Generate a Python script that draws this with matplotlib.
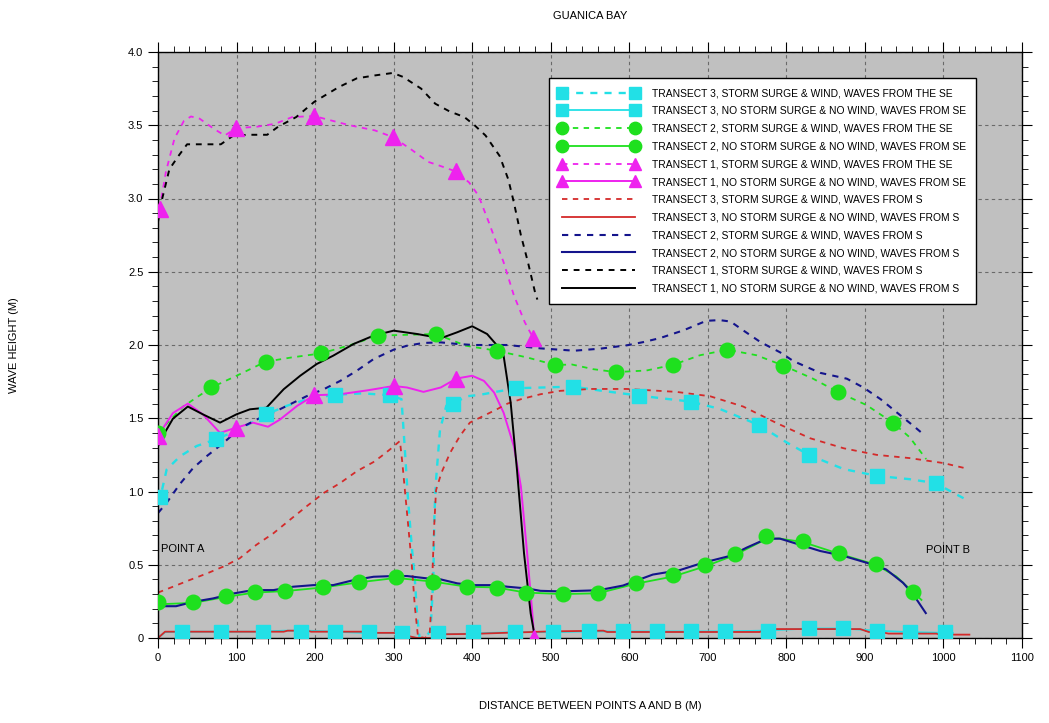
import matplotlib
matplotlib.use('Agg')
from matplotlib import pyplot as plt
from matplotlib.lines import Line2D
from matplotlib.ticker import MultipleLocator, FuncFormatter

plt.rcParams['font.family'] = ['Liberation Sans', 'DejaVu Sans']

# ---- data (distance in m, wave height in m) ----

# transect 3, storm surge & wind, waves from SE (cyan dashed, squares)
t3_se_storm_x = [0, 3, 11, 28, 49, 73.6, 104, 138, 164, 190, 225, 260, 296, 310, 314, 318,
                 323, 327, 330, 333, 340, 347, 350.5, 352, 354, 359, 367, 376, 393, 410, 430,
                 456, 490, 528, 563, 612, 648, 678, 715, 765, 800, 829, 873, 915, 957, 990,
                 1012, 1032]
t3_se_storm_y = [0.92, 0.96, 1.15, 1.24, 1.31, 1.356, 1.425, 1.527, 1.585, 1.63, 1.66, 1.67,
                 1.657, 1.63, 1.31, 0.97, 0.63, 0.40, 0.15, 0.0, 0.0, 0.05, 0.40, 0.86, 1.08,
                 1.42, 1.585, 1.60, 1.65, 1.66, 1.68, 1.705, 1.71, 1.716, 1.689, 1.655, 1.632,
                 1.614, 1.564, 1.454, 1.336, 1.249, 1.153, 1.107, 1.084, 1.057, 0.993, 0.936]
t3_se_storm_mx = [3, 73.6, 138, 225, 296, 376, 456, 528, 612, 678, 765, 829, 915, 990]
t3_se_storm_my = [0.96, 1.356, 1.527, 1.66, 1.657, 1.60, 1.705, 1.716, 1.655, 1.614, 1.454,
                  1.249, 1.107, 1.057]

# transect 3, no storm surge & no wind, waves from SE (cyan solid, squares)
t3_se_calm_x = [0, 9, 31, 80, 134, 160, 182, 190, 225, 262, 268, 300, 311, 317, 330, 349,
                355, 357, 401, 424, 454, 503, 549, 592, 635, 678, 722, 770, 829, 872, 915,
                957, 1002, 1012]
t3_se_calm_y = [0.0, 0.04, 0.043, 0.043, 0.043, 0.05, 0.05, 0.05, 0.043, 0.035, 0.035, 0.035,
                0.03, 0.01, 0.0, 0.0, 0.025, 0.025, 0.03, 0.035, 0.04, 0.04, 0.045, 0.045,
                0.045, 0.045, 0.045, 0.05, 0.065, 0.065, 0.05, 0.04, 0.035, 0.035]
t3_se_calm_mx = [31, 80, 134, 182, 225, 268, 311, 357, 401, 454, 503, 549, 592, 635, 678,
                 722, 776, 829, 872, 915, 957, 1002]
t3_se_calm_my = [0.043, 0.043, 0.043, 0.043, 0.043, 0.04, 0.035, 0.035, 0.04, 0.04, 0.043,
                 0.045, 0.045, 0.045, 0.045, 0.045, 0.05, 0.068, 0.068, 0.05, 0.04, 0.04]

# transect 2, storm surge & wind, waves from SE (green dashed, circles)
t2_se_storm_x = [0, 32, 68, 100, 137, 170, 208, 245, 280, 320, 354, 392, 431, 470, 506, 527,
                 554, 583, 622, 656, 690, 725, 762, 796, 834, 866, 902, 936, 957, 978]
t2_se_storm_y = [1.40, 1.58, 1.71, 1.79, 1.886, 1.915, 1.943, 2.0, 2.064, 2.07, 2.075, 1.995,
                 1.961, 1.915, 1.863, 1.867, 1.835, 1.815, 1.826, 1.865, 1.93, 1.968, 1.93,
                 1.86, 1.77, 1.678, 1.59, 1.468, 1.37, 1.221]
t2_se_storm_mx = [0, 68, 137, 208, 280, 354, 431, 506, 583, 656, 725, 796, 866, 936]
t2_se_storm_my = [1.40, 1.71, 1.886, 1.943, 2.064, 2.075, 1.961, 1.863, 1.815, 1.865, 1.968,
                  1.86, 1.678, 1.468]

# transect 2, no storm surge & no wind, waves from SE (green solid, circles)
t2_se_calm_x = [0, 23, 45, 86, 123, 162, 210, 256, 303, 350, 393, 431, 468, 515, 560, 608,
                656, 697, 734, 774, 790, 821, 867, 914, 940, 961, 972]
t2_se_calm_y = [0.23, 0.235, 0.24, 0.28, 0.31, 0.32, 0.345, 0.38, 0.41, 0.385, 0.35, 0.345,
                0.31, 0.30, 0.305, 0.37, 0.42, 0.49, 0.565, 0.675, 0.68, 0.655, 0.575, 0.50,
                0.42, 0.315, 0.26]
t2_se_calm_mx = [0, 45, 86, 123, 162, 210, 256, 303, 350, 393, 431, 468, 515, 560, 608, 656,
                 697, 734, 774, 821, 867, 914, 961]
t2_se_calm_my = [0.247, 0.247, 0.286, 0.315, 0.322, 0.35, 0.384, 0.414, 0.384, 0.35, 0.343,
                 0.309, 0.297, 0.31, 0.377, 0.427, 0.497, 0.575, 0.696, 0.664, 0.582, 0.502,
                 0.315]

# transect 1, storm surge & wind, waves from SE (magenta dashed, triangles)
t1_se_storm_x = [2, 10, 21, 33, 42, 53, 71, 85, 99.5, 126, 149, 171, 198.6, 244, 276, 298.6,
                 321, 344, 358, 379, 396, 408, 421, 440, 453, 467, 478]
t1_se_storm_y = [2.93, 3.18, 3.41, 3.53, 3.56, 3.545, 3.476, 3.43, 3.48, 3.49, 3.51, 3.556,
                 3.563, 3.50, 3.465, 3.42, 3.34, 3.25, 3.225, 3.185, 3.11, 3.02, 2.84, 2.565,
                 2.34, 2.155, 2.045]
t1_se_storm_mx = [2, 99.5, 198.6, 298.6, 379, 478]
t1_se_storm_my = [2.93, 3.48, 3.563, 3.42, 3.185, 2.045]

# transect 1, no storm surge & no wind, waves from SE (magenta solid, triangles)
t1_se_calm_x = [0, 19, 38, 57, 79, 99, 121, 140, 155, 177, 199, 232, 266, 300, 317, 338, 360,
                380, 400, 415, 428, 440, 453, 462, 470, 476.6, 479]
t1_se_calm_y = [1.38, 1.535, 1.6, 1.527, 1.40, 1.435, 1.47, 1.442, 1.49, 1.584, 1.657, 1.664,
                1.69, 1.72, 1.71, 1.68, 1.71, 1.771, 1.79, 1.755, 1.675, 1.538, 1.31, 1.035,
                0.578, 0.167, 0.0]
t1_se_calm_mx = [0, 99, 199, 300, 380, 479]
t1_se_calm_my = [1.38, 1.435, 1.657, 1.72, 1.771, 0.0]

# transect 3, storm surge & wind, waves from S (red dashed)
t3_s_storm_x = [0, 19, 40, 62, 83, 104, 125, 147, 168, 189, 211, 232, 253, 274, 283, 296,
                308, 311, 317, 323, 327, 331, 340, 346, 348.4, 351.4, 354, 361, 372, 384.5,
                397, 414, 431, 445, 462, 487, 512, 551, 597, 660, 703, 745, 788, 830, 873,
                915, 957, 1000, 1027]
t3_s_storm_y = [0.31, 0.35, 0.395, 0.44, 0.487, 0.544, 0.635, 0.715, 0.807, 0.898, 0.99,
                1.058, 1.138, 1.20, 1.235, 1.29, 1.345, 1.20, 0.856, 0.51, 0.214, 0.01, 0.0,
                0.03, 0.284, 0.74, 1.01, 1.13, 1.265, 1.38, 1.47, 1.515, 1.56, 1.60, 1.63,
                1.664, 1.687, 1.70, 1.70, 1.68, 1.65, 1.58, 1.466, 1.364, 1.295, 1.25, 1.228,
                1.194, 1.16]

# transect 3, no storm surge & no wind, waves from S (red solid)
t3_s_calm_x = [0, 9, 160, 165, 190, 195, 262, 268, 300, 317, 330, 349, 355, 400, 440, 500,
               567, 572, 766, 775, 894, 905, 920, 930, 991, 995, 1033]
t3_s_calm_y = [0.0, 0.043, 0.043, 0.05, 0.05, 0.043, 0.043, 0.035, 0.035, 0.015, 0.0, 0.0,
               0.025, 0.028, 0.035, 0.045, 0.05, 0.041, 0.041, 0.061, 0.061, 0.041, 0.041,
               0.03, 0.03, 0.023, 0.023]

# transect 2, storm surge & wind, waves from S (navy dashed)
t2_s_storm_x = [0, 10.6, 27.7, 44.7, 61.7, 83, 104, 125, 147, 168, 189, 211, 232, 253, 274.5,
                300, 317, 338, 360, 381, 402, 445, 487, 530, 563, 597, 618, 639, 669, 698,
                715, 729, 745, 767, 792, 809, 843, 877, 898, 920, 941, 962, 977]
t2_s_storm_y = [0.853, 0.92, 1.05, 1.16, 1.24, 1.33, 1.43, 1.49, 1.54, 1.595, 1.65, 1.698,
                1.755, 1.824, 1.904, 1.968, 1.995, 2.014, 2.018, 2.007, 2.0, 2.0, 1.977, 1.961,
                1.975, 1.998, 2.02, 2.047, 2.10, 2.165, 2.17, 2.16, 2.10, 2.02, 1.95, 1.89,
                1.81, 1.77, 1.71, 1.63, 1.538, 1.447, 1.379]

# transect 2, no storm surge & no wind, waves from S (navy solid)
t2_s_calm_x = [0, 23, 45, 70, 96, 121, 147, 172, 198, 223, 249, 274.5, 300, 317, 342.5, 360,
               381, 402, 428, 445, 470, 487, 513, 561, 592, 630, 664, 694, 728, 749.5, 775,
               792, 809, 843, 873, 902, 927, 948.5, 961.6, 977.5]
t2_s_calm_y = [0.217, 0.217, 0.247, 0.27, 0.304, 0.327, 0.327, 0.35, 0.361, 0.361, 0.395,
               0.418, 0.423, 0.423, 0.407, 0.40, 0.373, 0.361, 0.361, 0.35, 0.338, 0.322,
               0.318, 0.326, 0.358, 0.433, 0.463, 0.514, 0.56, 0.617, 0.678, 0.678, 0.65,
               0.594, 0.56, 0.514, 0.468, 0.377, 0.297, 0.17]

# transect 1, storm surge & wind, waves from S (black dashed)
t1_s_storm_x = [0, 5.4, 14.5, 26, 37, 58, 80, 96, 116, 139, 153, 176, 199, 230, 253, 276, 299,
                312, 335, 353, 371, 390, 403, 417, 435, 446, 453, 462, 471, 480, 483]
t1_s_storm_y = [2.84, 3.0, 3.2, 3.29, 3.37, 3.37, 3.37, 3.43, 3.435, 3.435, 3.49, 3.556, 3.66,
                3.76, 3.82, 3.84, 3.857, 3.83, 3.75, 3.647, 3.595, 3.556, 3.5, 3.43, 3.29,
                3.13, 2.975, 2.75, 2.565, 2.36, 2.31]

# transect 1, no storm surge & no wind, waves from S (black solid)
t1_s_calm_x = [0, 8.5, 19, 38, 57, 79, 100, 117, 138, 160, 181, 202, 223, 249, 274.5, 300, 330,
               360, 381, 400, 419, 432, 440, 449, 457, 466, 474.5, 480]
t1_s_calm_y = [1.31, 1.40, 1.497, 1.58, 1.527, 1.47, 1.527, 1.561, 1.572, 1.698, 1.79, 1.87,
               1.927, 2.007, 2.064, 2.098, 2.075, 2.046, 2.087, 2.128, 2.075, 1.995, 1.927,
               1.607, 1.15, 0.578, 0.167, 0.0]

labels = [
    "TRANSECT 3, STORM SURGE & WIND, WAVES FROM THE SE",
    "TRANSECT 3, NO STORM SURGE & NO WIND, WAVES FROM SE",
    "TRANSECT 2, STORM SURGE & WIND, WAVES FROM THE SE",
    "TRANSECT 2, NO STORM SURGE & NO WIND, WAVES FROM SE",
    "TRANSECT 1, STORM SURGE & WIND, WAVES FROM THE SE",
    "TRANSECT 1, NO STORM SURGE & NO WIND, WAVES FROM SE",
    "TRANSECT 3, STORM SURGE & WIND, WAVES FROM S",
    "TRANSECT 3, NO STORM SURGE & NO WIND, WAVES FROM S",
    "TRANSECT 2, STORM SURGE & WIND, WAVES FROM S",
    "TRANSECT 2, NO STORM SURGE & NO WIND, WAVES FROM S",
    "TRANSECT 1, STORM SURGE & WIND, WAVES FROM S",
    "TRANSECT 1, NO STORM SURGE & NO WIND, WAVES FROM S",
]

CYAN = '#22e0e6'
GREEN = '#1ee01e'
MAGENTA = '#ee22ee'
RED = '#d42a2a'
NAVY = '#14148c'

# (x, y, marker x, marker y, colour, dashed, marker, line width)
series = [
    (t3_se_storm_x, t3_se_storm_y, t3_se_storm_mx, t3_se_storm_my, CYAN, True, 's', 1.7),
    (t3_se_calm_x, t3_se_calm_y, t3_se_calm_mx, t3_se_calm_my, CYAN, False, 's', 1.3),
    (t2_se_storm_x, t2_se_storm_y, t2_se_storm_mx, t2_se_storm_my, GREEN, True, 'o', 1.3),
    (t2_se_calm_x, t2_se_calm_y, t2_se_calm_mx, t2_se_calm_my, GREEN, False, 'o', 1.3),
    (t1_se_storm_x, t1_se_storm_y, t1_se_storm_mx, t1_se_storm_my, MAGENTA, True, '^', 1.3),
    (t1_se_calm_x, t1_se_calm_y, t1_se_calm_mx, t1_se_calm_my, MAGENTA, False, '^', 1.4),
    (t3_s_storm_x, t3_s_storm_y, None, None, RED, True, None, 1.3),
    (t3_s_calm_x, t3_s_calm_y, None, None, RED, False, None, 1.3),
    (t2_s_storm_x, t2_s_storm_y, None, None, NAVY, True, None, 1.5),
    (t2_s_calm_x, t2_s_calm_y, None, None, NAVY, False, None, 1.5),
    (t1_s_storm_x, t1_s_storm_y, None, None, 'black', True, None, 1.4),
    (t1_s_calm_x, t1_s_calm_y, None, None, 'black', False, None, 1.4),
]

fig = plt.figure(figsize=(10.49, 7.23), dpi=100)
ax = fig.add_axes([158 / 1049, 1 - 638 / 723, 864 / 1049, 586 / 723])
ax.set_facecolor('#c0c0c0')

handles = []
for (x, y, mx, my, color, dashed, marker, lw), label in zip(series, labels):
    ls = (0, (3, 3)) if dashed else '-'
    ax.plot(x, y, color=color, lw=lw, ls=ls, zorder=2)
    ms = 11 if marker == '^' else 10.5
    if marker is not None:
        ax.plot(mx, my, ls='none', marker=marker, ms=ms, color=color, mec=color, zorder=3)
    # legend symbols are drawn a little smaller than the plotted ones
    handles.append(Line2D([0, 1], [0, 1], color=color, lw=lw, ls=ls, marker=marker,
                          ms=ms * 0.85, mec=color))

ax.set_xlim(0, 1100)
ax.set_ylim(0, 4.0)
ax.xaxis.set_major_locator(MultipleLocator(100))
ax.xaxis.set_minor_locator(MultipleLocator(20))
ax.yaxis.set_major_locator(MultipleLocator(0.5))
ax.yaxis.set_minor_locator(MultipleLocator(0.1))
ax.yaxis.set_major_formatter(FuncFormatter(lambda v, p: '0' if v == 0 else f'{v:.1f}'))
ax.tick_params(which='both', direction='out', top=True, right=True, labelsize=8,
               color='black')
ax.tick_params(which='major', length=7, width=0.8)
ax.tick_params(which='minor', length=4, width=0.6)
ax.grid(True, which='major', color='#6a6a6a', ls=(0, (3, 3)), lw=0.8)
ax.set_axisbelow(True)
for s in ax.spines.values():
    s.set_color('black')
    s.set_linewidth(1.0)

ax.text(4, 0.61, 'POINT A', fontsize=8, va='center', ha='left')
ax.text(978, 0.60, 'POINT B', fontsize=8, va='center', ha='left')

leg = ax.legend(handles, labels, loc='upper left', bbox_to_anchor=(0.4525, 0.9556),
                borderaxespad=0, numpoints=2, handlelength=7.7, handletextpad=1.4,
                labelspacing=0.76, fontsize=7.35, fancybox=False, framealpha=1,
                edgecolor='black', borderpad=1.0)
leg.get_frame().set_linewidth(1.0)

fig.text(590 / 1049, 1 - 16 / 723, 'GUANICA BAY', ha='center', va='center', fontsize=8)
fig.text(590 / 1049, 1 - 706 / 723, 'DISTANCE BETWEEN POINTS A AND B (M)', ha='center',
         va='center', fontsize=8)
fig.text(14 / 1049, 1 - 345 / 723, 'WAVE HEIGHT (M)', ha='center', va='center', fontsize=8,
         rotation=90)

fig.savefig('out.png', dpi=100)
